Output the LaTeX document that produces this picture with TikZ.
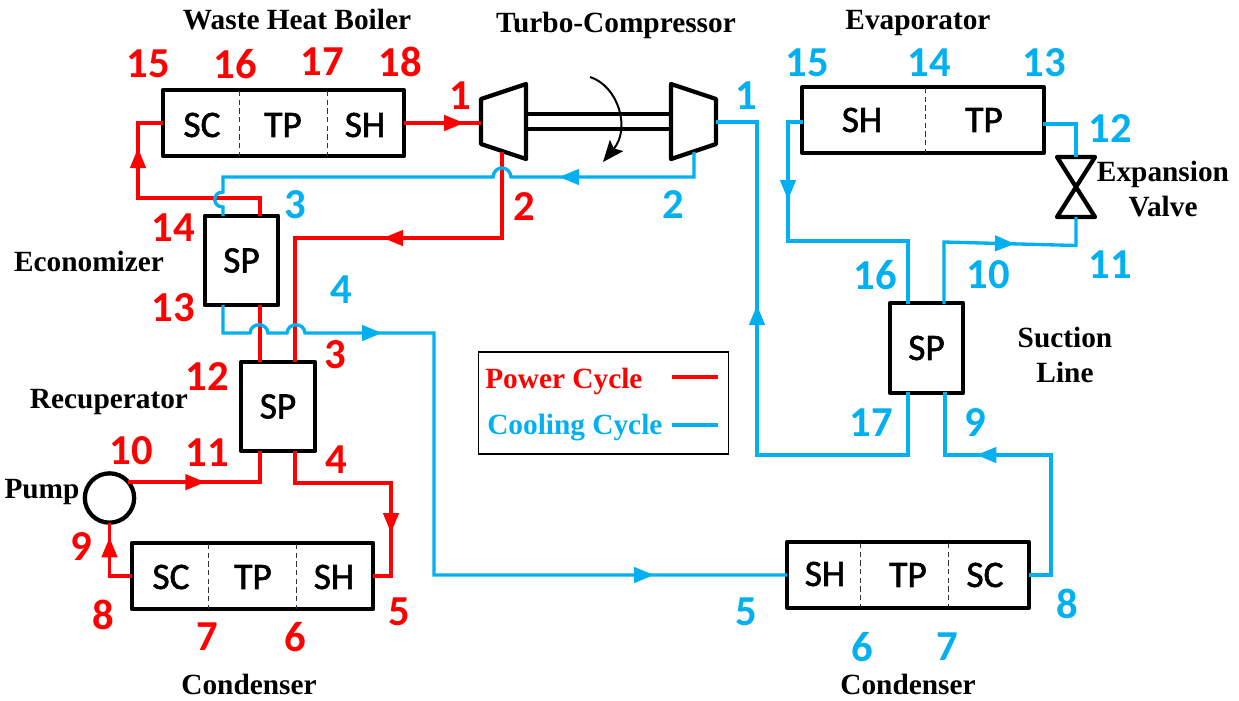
\documentclass[tikz,border=0pt]{standalone}
\usepackage{fontspec}
\setmainfont{Liberation Serif}
\newfontfamily\calfont{Carlito}
\newfontfamily\zonefont[FakeBold=1.6]{Carlito}
\usetikzlibrary{arrows.meta, decorations.markings}
\definecolor{coolblue}{RGB}{0,176,240}
\tikzset{
  hxlong/.style={draw, line width=3.2pt, line join=round, minimum width=181pt, minimum height=49.5pt, inner sep=0pt, outer sep=0pt},
  hxsquare/.style={draw, line width=3.2pt, line join=round, minimum width=55pt, minimum height=67pt, inner sep=0pt, outer sep=0pt, font=\zonefont\fontsize{28}{30}\selectfont},
  hxzone/.style={font=\zonefont\fontsize{28}{30}\selectfont, inner sep=0pt},
  hxdash/.style={line width=0.7pt, dash pattern=on 4pt off 2.5pt, black!80},
  solid3/.style={line width=3.2pt, line join=round},
  redline/.style={red, line width=2.5pt, line join=miter},
  blueline/.style={coolblue, line width=2.5pt, line join=miter},
  flowtip/.tip={Triangle[length=15pt,width=11.5pt]},
  flow/.style={postaction={decorate}, decoration={markings, mark=at position #1*0.75pt with {\arrow{flowtip}}}},
  flowtwo/.style 2 args={postaction={decorate}, decoration={markings, mark=at position #1*0.75pt with {\arrow{flowtip}}, mark=at position #2*0.75pt with {\arrow{flowtip}}}},
  rednum/.style={red, font=\calfont\bfseries\fontsize{32}{34}\selectfont, inner sep=0pt},
  bluenum/.style={coolblue, font=\calfont\bfseries\fontsize{32}{34}\selectfont, inner sep=0pt},
  title/.style={font=\bfseries\fontsize{22}{26}\selectfont, inner sep=0pt, align=center}
}
\begin{document}
\begin{tikzpicture}[x=0.75pt, y=-0.75pt]
\useasboundingbox (0,0) rectangle (1239,700);

% exchangers
\node[hxlong] (whb) at (283.5,123) {};
\node[hxlong] (condl) at (252.5,576) {};
\node[hxlong] (condr) at (908,575) {};
\node[hxlong] (evap) at (923,120) {};
\node[hxsquare] (econ) at (241.5,260.5) {SP};
\node[hxsquare] (recup) at (278,406.5) {SP};
\node[hxsquare] (suction) at (926.5,348) {SP};
\node[draw, circle, line width=3.2pt, minimum size=37pt, inner sep=0pt, outer sep=0pt] (pump) at (109.5,498) {};

\draw[hxdash] (239,91) -- (239,156);
\draw[hxdash] (327,91) -- (327,156);
\draw[hxdash] (208,544) -- (208,609);
\draw[hxdash] (296,544) -- (296,609);
\draw[hxdash] (860,543) -- (860,607);
\draw[hxdash] (948,543) -- (948,607);
\draw[hxdash] (925,88) -- (925,153);

\node[hxzone] (whbsc) at (202,125) {SC};
\node[hxzone] (whbtp) at (283,125) {TP};
\node[hxzone] (whbsh) at (365,125) {SH};
\node[hxzone] (condlsc) at (171,577) {SC};
\node[hxzone] (condltp) at (253,577) {TP};
\node[hxzone] (condlsh) at (334,577) {SH};
\node[hxzone] (condrsh) at (825,574) {SH};
\node[hxzone] (condrtp) at (908,575) {TP};
\node[hxzone] (condrsc) at (985,575) {SC};
\node[hxzone] (evapsh) at (862,120) {SH};
\node[hxzone] (evaptp) at (984,120) {TP};

% turbo-compressor and valve
\draw[solid3] (481,99) -- (526,84) -- (526,159) -- (481,144) -- cycle;
\draw[solid3] (671,84) -- (716,99) -- (716,144) -- (671,159) -- cycle;
\draw[line width=3pt] (526,114) -- (671,114);
\draw[line width=3pt] (526,129) -- (671,129);
\draw[line width=1.5pt, -{Stealth[length=16pt,width=13pt,inset=3pt]}] (590,77) .. controls (618,86) and (631,128) .. (603,162);
\draw[solid3] (1057,157) -- (1095,157) -- (1057,217) -- (1095,217) -- cycle;

\coordinate (turbin) at (481,123);
\coordinate (turbout) at (502,152);
\coordinate (compin) at (694,152);
\coordinate (compout) at (716,122);
\coordinate (valvetop) at (1076,157);
\coordinate (valvebot) at (1076,217);
\coordinate (econtl) at (223,216);
\coordinate (econtr) at (260,216);
\coordinate (econbl) at (223,305);
\coordinate (econbr) at (260,305);
\coordinate (recuptl) at (260,362);
\coordinate (recuptr) at (295,362);
\coordinate (recupbl) at (260,451);
\coordinate (recupbr) at (295,451);
\coordinate (suctl) at (908,304);
\coordinate (suctr) at (944,304);
\coordinate (sucbl) at (908,392);
\coordinate (sucbr) at (945,392);
\coordinate (evapin) at (1043,124);
\coordinate (evapout) at (803,122);

% power cycle
\draw[redline, flow=60] (whb.east) -- (turbin);
\draw[redline, flow=190] (econtr) -- (260,198) -- (138,198) -- (138,123) -- (whb.west);
\draw[redline, flow=205] (turbout) -- (502,238) -- (295,238) -- (recuptr);
\draw[redline] (econbr) -- (recuptl);
\draw[redline, flow=77] (pump.40) -- (pump.40 -| recupbl) -- (recupbl);
\draw[redline, flow=178] (recupbr) -- (295,483) -- (391,483) -- (391,576) -- (condl.east);
\draw[redline, flow=61] (condl.west) -| (pump.south);

% cooling cycle
\draw[blueline, flow=364] (sucbl) -- (908,455) -- (757,455) -- (757,122) -- (compout);
\draw[blueline, flow=160] (compin) -- (694,177) -- (511,177) .. controls (510,165) and (494,165) .. (493,177) -- (223,177) -- (223,192) .. controls (212,192) and (212,207) .. (223,207) -- (econtl);
\draw[blueline, flowtwo={205}{719}] (econbl) -- (223,333) -- (250,333) .. controls (251,322) and (267,322) .. (268,333) -- (287,333) .. controls (288,322) and (304,322) .. (305,333) -- (434,333) -- (434,575) -- (condr.west);
\draw[blueline, flow=217] (condr.east) -- (1051,575) -- (1051,455) -- (945,455) -- (sucbr);
\draw[blueline, flow=133] (suctr) -- (944,242) -- (1076,245.5) -- (valvebot);
\draw[blueline] (evapin) -- (1076,124) -- (valvetop);
\draw[blueline, flow=93] (evapout) -- (788,122) -- (788,241) -- (908,241) -- (suctl);

% legend
\node[draw, line width=0.8pt, minimum width=188pt, minimum height=76.5pt, inner sep=0pt] (legend) at (603.5,403) {};
\node[font=\bfseries\fontsize{22}{26}\selectfont, red, anchor=west, inner sep=0pt] (powerlab) at (485,381) {Power Cycle};
\node[font=\bfseries\fontsize{22}{26}\selectfont, coolblue, anchor=west, inner sep=0pt] (coollab) at (487,428) {Cooling Cycle};
\coordinate (powera) at (672,377);
\coordinate (powerb) at (718,377);
\coordinate (coola) at (672,425);
\coordinate (coolb) at (718,425);
\draw[redline] (powera) -- (powerb);
\draw[blueline] (coola) -- (coolb);

% titles
\node[title] (lwhb) at (297,20) {Waste Heat Boiler};
\node[title] (lturbo) at (616,25) {Turbo-Compressor};
\node[title] (levap) at (918,23) {Evaporator};
\node[title] (lecon) at (89,261) {Economizer};
\node[title] (lrecup) at (109,402) {Recuperator};
\node[title] (lpump) at (42,492) {Pump};
\node[title] (lvalve) at (1163,189) {Expansion\\Valve};
\node[title] (lsuction) at (1065,355) {Suction\\Line};
\node[title] (lcondl) at (249,684) {Condenser};
\node[title] (lcondr) at (908,684) {Condenser};

% state points
\node[rednum] (r15) at (148,64) {15};
\node[rednum] (r16) at (235,64) {16};
\node[rednum] (r17) at (322,62) {17};
\node[rednum] (r18) at (400,62) {18};
\node[rednum] (r1) at (460,96) {1};
\node[rednum] (r2) at (524,207) {2};
\node[rednum] (r14) at (173,228) {14};
\node[rednum] (r13) at (173,308) {13};
\node[rednum] (r3) at (335,355) {3};
\node[rednum] (r12) at (207,377) {12};
\node[rednum] (r10) at (131,451) {10};
\node[rednum] (r11) at (207,453) {11};
\node[rednum] (r4) at (336,460) {4};
\node[rednum] (r9) at (81,547) {9};
\node[rednum] (r8) at (103,615) {8};
\node[rednum] (r7) at (207,637) {7};
\node[rednum] (r6) at (295,637) {6};
\node[rednum] (r5) at (399,612) {5};

\node[bluenum] (b3) at (295,205) {3};
\node[bluenum] (b4) at (341,290) {4};
\node[bluenum] (b1) at (746,96) {1};
\node[bluenum] (b2) at (673,205) {2};
\node[bluenum] (b15) at (807,63) {15};
\node[bluenum] (b14) at (929,63) {14};
\node[bluenum] (b13) at (1044,63) {13};
\node[bluenum] (b12) at (1110,129) {12};
\node[bluenum] (b11) at (1110,265) {11};
\node[bluenum] (b16) at (875,275) {16};
\node[bluenum] (b10) at (988,275) {10};
\node[bluenum] (b17) at (871,423) {17};
\node[bluenum] (b9) at (975,423) {9};
\node[bluenum] (b5) at (746,612) {5};
\node[bluenum] (b6) at (862,647) {6};
\node[bluenum] (b7) at (947,647) {7};
\node[bluenum] (b8) at (1067,604) {8};
\end{tikzpicture}
\end{document}
